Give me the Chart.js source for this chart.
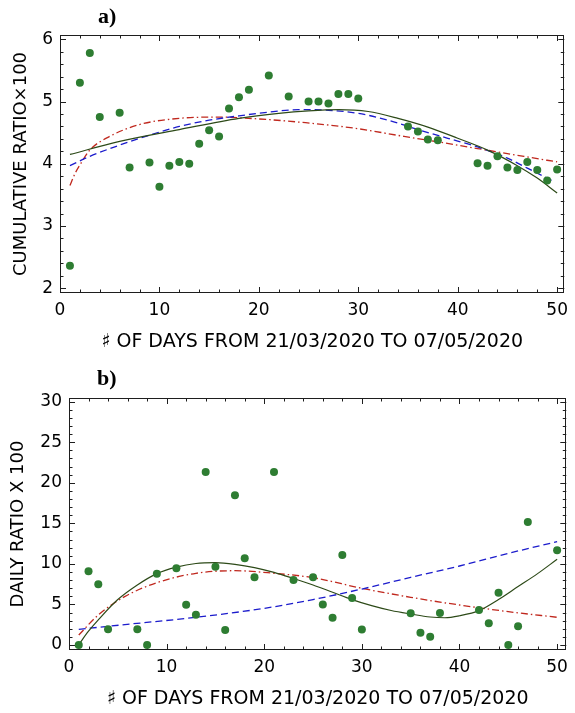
<!DOCTYPE html>
<html>
<head>
<meta charset="utf-8">
<script src="https://cdn.jsdelivr.net/npm/chart.js@4"></script>
<style>
  html, body { margin:0; padding:0; background:#fff; }
  #wrap { position:relative; width:575px; height:713px; background:#fff; overflow:hidden; }
  canvas { position:absolute; left:0; }
  .lab { position:absolute; font-family:'Liberation Serif', 'Times New Roman', serif; font-weight:bold; font-size:22px; line-height:22px; color:#000; }
</style>
</head>
<body>
<div id="wrap">
  <canvas id="c1" width="575" height="355" style="top:0"></canvas>
  <canvas id="c2" width="575" height="358" style="top:355px"></canvas>
  <div class="lab" style="left:98px;top:5px">a)</div>
  <div class="lab" style="left:97px;top:367px">b)</div>
</div>
<script>
// ---------- Panel a) cumulative ratio ----------
const daysA = [1,2,3,4,6,7,9,10,11,12,13,14,15,16,17,18,19,21,23,25,26,27,28,29,30,35,36,37,38,42,43,44,45,46,47,48,49,50];
const cumRatio = [2.36,5.30,5.78,4.75,4.82,3.94,4.02,3.63,3.97,4.03,4.00,4.32,4.54,4.44,4.89,5.07,5.19,5.42,5.08,5.00,5.00,4.97,5.12,5.12,5.05,4.60,4.52,4.39,4.38,4.01,3.97,4.12,3.94,3.90,4.03,3.90,3.73,3.91];

const fitA_solidX = [1,6,12,18,22,25,28,31,34,37,40,43,46,48,50];
const fitA_solidY = [4.15,4.36,4.55,4.73,4.81,4.85,4.87,4.84,4.73,4.59,4.41,4.22,3.97,3.77,3.53];
const fitA_blueX = [1,3,6,9,12,15,18,21,24,27,30,33,36,39,42,45,47,49.6];
const fitA_blueY = [3.97,4.12,4.30,4.46,4.60,4.70,4.77,4.83,4.87,4.86,4.81,4.70,4.55,4.41,4.27,4.09,3.93,3.72];
const fitA_redX = [1,1.5,2,3,5,8,12,16,20,24.7,29.7,34.6,39.6,44,50];
const fitA_redY = [3.65,3.84,3.98,4.22,4.44,4.63,4.73,4.75,4.72,4.66,4.57,4.44,4.31,4.19,4.03];

// ---------- Panel b) daily ratio ----------
const daysB = [1,2,3,4,7,8,9,11,12,13,14,15,16,17,18,19,21,23,25,26,27,28,29,30,35,36,37,38,42,43,44,45,46,47,50];
const dailyRatio = [0,9.09,7.48,1.93,1.93,0,8.79,9.45,4.97,3.74,21.33,9.66,1.85,18.46,10.69,8.34,21.33,8.0,8.34,5.0,3.37,11.1,5.8,1.9,3.9,1.5,1.0,3.95,4.3,2.67,6.45,0,2.3,15.17,11.67];

const fitB_solidX = [1,2,3,5,7,9,11,13,15,17,19,21,23,25,27,29,31,33,35,37,38.5,40,42,44,46,48,50];
const fitB_solidY = [0.05,1.7,3.1,5.6,7.4,8.8,9.6,10.05,10.15,9.95,9.55,8.95,8.2,7.4,6.5,5.6,4.85,4.25,3.82,3.45,3.36,3.6,4.23,5.6,7.2,8.8,10.57];
const fitB_blueX = [1,6.35,13,20,25,30,35,40,45,50];
const fitB_blueY = [1.93,2.59,3.41,4.52,5.6,6.9,8.34,9.74,11.3,12.74];
const fitB_redX = [1,3,5.7,9,13,17,21,25,30,35,40,45,50];
const fitB_redY = [1.23,3.7,5.96,7.68,8.84,9.16,8.84,8.3,6.99,5.88,4.93,4.11,3.41];

// ---------- tick labels ----------
const xTickVals = [0,10,20,30,40,50];
const yTickValsA = [2,3,4,5,6];
const yTickValsB = [0,5,10,15,20,25,30];

const xTitle = '\u266F OF DAYS FROM 21/03/2020 TO 07/05/2020';
const yTitleA = 'CUMULATIVE RATIO\u00D7100';
const yTitleB = 'DAILY RATIO X 100';

const zip = (xs, ys) => xs.map((x, i) => ({x: x, y: ys[i]}));

// inward frame ticks, drawn from the scales
function frameTicksPlugin(xMinorStep, yMinorStep) {
  return {
    id: 'frameTicks',
    beforeDatasetsDraw(chart) {
      const ctx = chart.ctx;
      const {left, right, top, bottom} = chart.chartArea;
      const xs = chart.scales.x, ys = chart.scales.y;
      ctx.save();
      ctx.strokeStyle = '#1e1e1e';
      ctx.lineWidth = 1;
      ctx.beginPath();
      const majX = xs.ticks.map(t => t.value);
      const majY = ys.ticks.map(t => t.value);
      const isMaj = (arr, v) => arr.some(m => Math.abs(m - v) < 1e-6);
      for (let v = Math.ceil(xs.min / xMinorStep) * xMinorStep; v <= xs.max + 1e-9; v += xMinorStep) {
        const len = isMaj(majX, v) ? 6 : 3.5;
        const px = Math.round(xs.getPixelForValue(v)) + 0.5;
        ctx.moveTo(px, bottom); ctx.lineTo(px, bottom - len);
        ctx.moveTo(px, top); ctx.lineTo(px, top + len);
      }
      for (let v = Math.ceil(ys.min / yMinorStep - 1e-9) * yMinorStep; v <= ys.max + 1e-9; v += yMinorStep) {
        const len = isMaj(majY, v) ? 6 : 3.5;
        const py = Math.round(ys.getPixelForValue(v)) + 0.5;
        ctx.moveTo(left, py); ctx.lineTo(left + len, py);
        ctx.moveTo(right, py); ctx.lineTo(right - len, py);
      }
      ctx.stroke();
      ctx.strokeRect(Math.round(left) + 0.5, Math.round(top) + 0.5, Math.round(right - left) - 1, Math.round(bottom - top) - 1);
      ctx.restore();
    }
  };
}

const FONT = 'DejaVu Sans';

function makeChart(canvasId, cfg) {
  return new Chart(document.getElementById(canvasId), {
    type: 'scatter',
    data: {
      datasets: [
        { label: 'data', data: zip(cfg.px, cfg.py), pointRadius: 4, pointHoverRadius: 4,
          backgroundColor: '#2e7d32', borderWidth: 0, order: 0 },
        { label: 'fit1', type: 'line', data: zip(cfg.sX, cfg.sY), showLine: true, pointRadius: 0,
          borderColor: '#2d4a18', borderWidth: 1.2, fill: false, cubicInterpolationMode: 'monotone', order: 1 },
        { label: 'fit2', type: 'line', data: zip(cfg.bX, cfg.bY), showLine: true, pointRadius: 0,
          borderColor: '#1c1ccc', borderWidth: 1.3, borderDash: [7, 4], fill: false, cubicInterpolationMode: 'monotone', order: 2 },
        { label: 'fit3', type: 'line', data: zip(cfg.rX, cfg.rY), showLine: true, pointRadius: 0,
          borderColor: '#c0281e', borderWidth: 1.3, borderDash: [7, 3, 1.5, 3], fill: false, cubicInterpolationMode: 'monotone', order: 3 }
      ]
    },
    options: {
      responsive: false,
      animation: false,
      devicePixelRatio: 1,
      layout: { padding: { left: 0, right: cfg.padRight, top: cfg.padTop, bottom: 0 } },
      plugins: { legend: { display: false }, tooltip: { enabled: false } },
      scales: {
        x: {
          type: 'linear', min: 0, max: cfg.xMax,
          grid: { display: false, drawTicks: false }, border: { display: false },
          afterBuildTicks: s => { s.ticks = xTickVals.map(v => ({ value: v })); },
          afterFit: s => { s.height = cfg.xHeight; },
          ticks: { color: '#000', font: { family: FONT, size: 17 }, padding: 7, maxRotation: 0, autoSkip: false },
          title: { display: true, text: xTitle, color: '#000', font: { family: FONT, size: 19 }, padding: { top: 0, bottom: cfg.xTitlePad } }
        },
        y: {
          type: 'linear', min: cfg.yMin, max: cfg.yMax,
          grid: { display: false, drawTicks: false }, border: { display: false },
          afterBuildTicks: s => { s.ticks = cfg.yTicks.map(v => ({ value: v })); },
          afterFit: s => { s.width = cfg.yWidth; },
          ticks: { color: '#000', font: { family: FONT, size: 17 }, padding: 7, autoSkip: false },
          title: { display: true, text: cfg.yTitle, color: '#000', font: { family: FONT, size: 18 }, padding: { top: cfg.yTitlePad, bottom: 0 } }
        }
      }
    },
    plugins: [frameTicksPlugin(2, cfg.yMinor)]
  });
}

makeChart('c1', {
  px: daysA, py: cumRatio,
  sX: fitA_solidX, sY: fitA_solidY, bX: fitA_blueX, bY: fitA_blueY, rX: fitA_redX, rY: fitA_redY,
  xMax: 50.72, yMin: 1.924, yMax: 6.069, yTicks: yTickValsA, yMinor: 0.2,
  padRight: 2, padTop: 35, xHeight: 62, yWidth: 60, xTitlePad: 1.4, yTitlePad: 10.5, yTitle: yTitleA
});

makeChart('c2', {
  px: daysB, py: dailyRatio,
  sX: fitB_solidX, sY: fitB_solidY, bX: fitB_blueX, bY: fitB_blueY, rX: fitB_redX, rY: fitB_redY,
  xMax: 50.94, yMin: -0.62, yMax: 30.46, yTicks: yTickValsB, yMinor: 1,
  padRight: 3, padTop: 43, xHeight: 63, yWidth: 69, xTitlePad: 2.4, yTitlePad: 7.5, yTitle: yTitleB
});
</script>
</body>
</html>
